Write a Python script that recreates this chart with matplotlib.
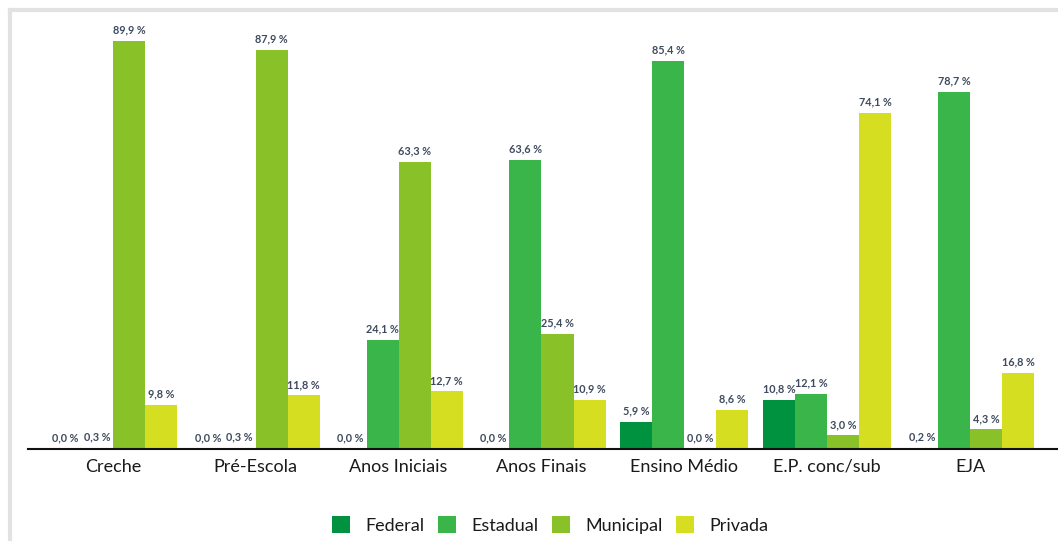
import matplotlib
matplotlib.use("Agg")
import matplotlib.pyplot as plt
from matplotlib.lines import Line2D
from matplotlib.patches import Patch
import numpy as np

categories = ["Creche", "Pré-Escola", "Anos Iniciais", "Anos Finais",
              "Ensino Médio", "E.P. conc/sub", "EJA"]
series_names = ["Federal", "Estadual", "Municipal", "Privada"]
federal = [0.0, 0.0, 0.0, 0.0, 5.9, 10.8, 0.2]
estadual = [0.3, 0.3, 24.1, 63.6, 85.4, 12.1, 78.7]
municipal = [89.9, 87.9, 63.3, 25.4, 0.0, 3.0, 4.3]
privada = [9.8, 11.8, 12.7, 10.9, 8.6, 74.1, 16.8]
colors = ["#00923f", "#3ab54a", "#88c228", "#d6de22"]

plt.rcParams['font.family'] = ['Lato', 'DejaVu Sans']

fig = plt.figure(figsize=(10.58, 5.41), dpi=100)
W, H = 1058, 541
ax = fig.add_axes([28 / W, 1 - 449 / H, (1058 - 28) / W, (449 - 18) / H])

x = np.arange(len(categories))
bw = 0.224
data = [federal, estadual, municipal, privada]
for i, (name, vals, c) in enumerate(zip(series_names, data, colors)):
    pos = x + (i - 1.5) * bw
    ax.bar(pos, vals, width=bw, color=c, label=name, linewidth=0)
    for p, v in zip(pos, vals):
        ax.text(p, v + 1.2, f"{v:.1f} %".replace(".", ","), ha="center", va="bottom",
                fontsize=7.8, fontweight="bold", color="#3e4a5e")

ax.set_xlim(-0.594, 6.615)
ax.set_ylim(0, (449 - 18) / 4.54)
for s in ["top", "right", "left"]:
    ax.spines[s].set_visible(False)
ax.spines["bottom"].set_color("#111111")
ax.spines["bottom"].set_linewidth(1.5)
ax.set_yticks([])
ax.set_xticks(x)
ax.set_xticklabels(categories, fontsize=13, color="#1a1a1a")
ax.tick_params(axis="x", length=0, pad=7)

handles = [Patch(facecolor=c, edgecolor="none") for c in colors]
fig.legend(handles, series_names, loc="center", bbox_to_anchor=(550 / W, 1 - 525 / H),
           ncol=4, frameon=False, fontsize=13, handlelength=1.0, handleheight=1.0,
           columnspacing=0.75, handletextpad=0.85, labelcolor="#1a1a1a")

# frame lines of the screenshot
fig.add_artist(Line2D([10 / W, 10 / W], [0, 1 - 10 / H], color="#e2e2e2", lw=3,
                      transform=fig.transFigure))
fig.add_artist(Line2D([10 / W, 1], [1 - 10 / H, 1 - 10 / H], color="#e2e2e2", lw=3,
                      transform=fig.transFigure))

fig.savefig("out.png", dpi=100, facecolor="white")
